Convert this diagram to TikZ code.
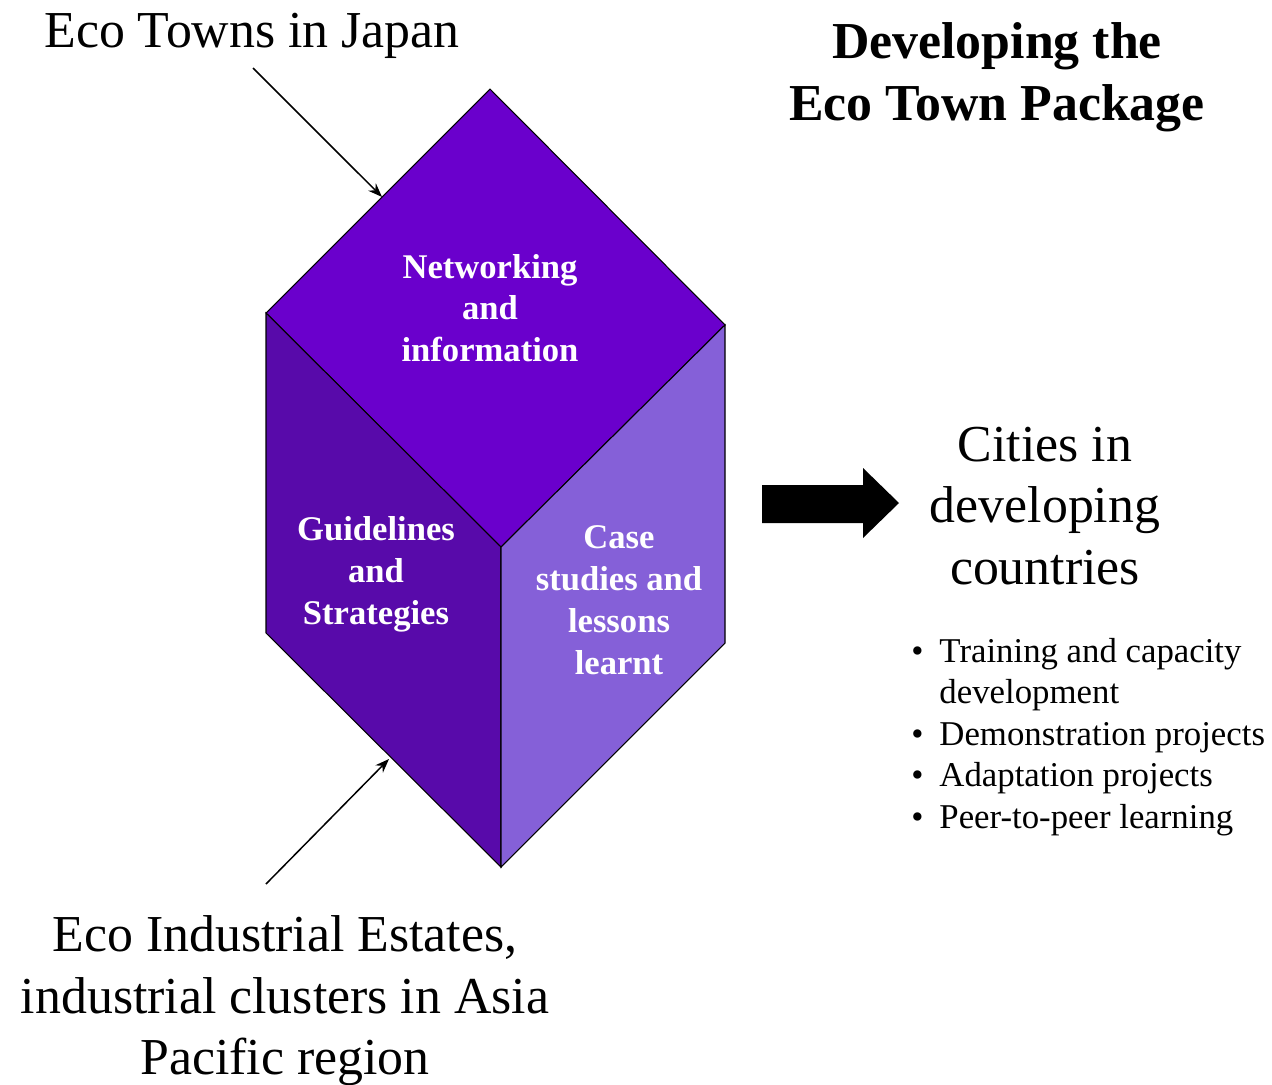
\documentclass[tikz,border=0pt]{standalone}
\usepackage{fontspec}
\setmainfont{Liberation Serif}
\usetikzlibrary{arrows.meta,calc}
\definecolor{topface}{RGB}{106,0,204}
\definecolor{leftface}{RGB}{88,10,170}
\definecolor{rightface}{RGB}{133,96,216}
\begin{document}
\begin{tikzpicture}[x=0.02cm,y=-0.02cm,
  face/.style={draw=black,line width=0.6pt,line join=miter},
  bigtext/.style={font=\fontsize{29.5}{35}\selectfont,align=center,inner sep=0pt},
  titletext/.style={font=\bfseries\fontsize{29.5}{35}\selectfont,align=center,inner sep=0pt},
  cubetext/.style={font=\bfseries\fontsize{19.7}{23.8}\selectfont,align=center,text=white,inner sep=0pt},
  listtext/.style={font=\fontsize{19.8}{23.6}\selectfont,align=left,inner sep=0pt},
  pointer/.style={line width=0.85pt,-{Stealth[length=8pt,width=6pt]}},
]
\useasboundingbox (0,0) rectangle (1272,1085);
% cube vertices
\coordinate (T) at (490,89);
\coordinate (LT) at (266,313);
\coordinate (RT) at (725,325);
\coordinate (C) at (501,547);
\coordinate (LB) at (266,633);
\coordinate (RB) at (725,643);
\coordinate (B) at (501,867);
% faces
\draw[face,fill=topface] (T)--(RT)--(C)--(LT)--cycle;
\draw[face,fill=leftface] (LT)--(C)--(B)--(LB)--cycle;
\draw[face,fill=rightface] (C)--(RT)--(RB)--(B)--cycle;
% face texts
\node[cubetext] (net) at (490,308) {Networking\\and\\information};
\node[cubetext] (guide) at (376,574) {Guidelines\\and\\Strategies};
\node[cubetext] (case) at (619,600) {Case\\studies and\\lessons\\learnt};
% labels
\node[bigtext,anchor=base] (japan) at (252,48) {Eco Towns in Japan};
\node[titletext] (title) at (997,77) {Developing the\\Eco Town Package};
\node[bigtext] (cities) at (1045,506) {Cities in\\developing\\countries};
\node[bigtext] (estates) at (285,1001) {Eco Industrial Estates,\\industrial clusters in Asia\\Pacific region};
\node[listtext,anchor=west] (list) at (911,737) {%
\makebox[16pt][l]{\textbullet}Training and capacity\\
\hspace*{16pt}development\\
\makebox[16pt][l]{\textbullet}Demonstration projects\\
\makebox[16pt][l]{\textbullet}Adaptation projects\\
\makebox[16pt][l]{\textbullet}Peer-to-peer learning};
% pointer arrows
\coordinate (jstart) at (253,68);
\coordinate (jend) at ($(T)!0.482!(LT)$);
\draw[pointer] (jstart) -- (jend);
\coordinate (estart) at (266,884);
\coordinate (eend) at (389,759);
\draw[pointer] (estart) -- (eend);
% big arrow
\coordinate (bigtip) at (899,503);
\fill[black] (762,485) -- (863,485) -- (863,468) -- (bigtip) -- (863,538) -- (863,523) -- (762,523) -- cycle;
\end{tikzpicture}
\end{document}
